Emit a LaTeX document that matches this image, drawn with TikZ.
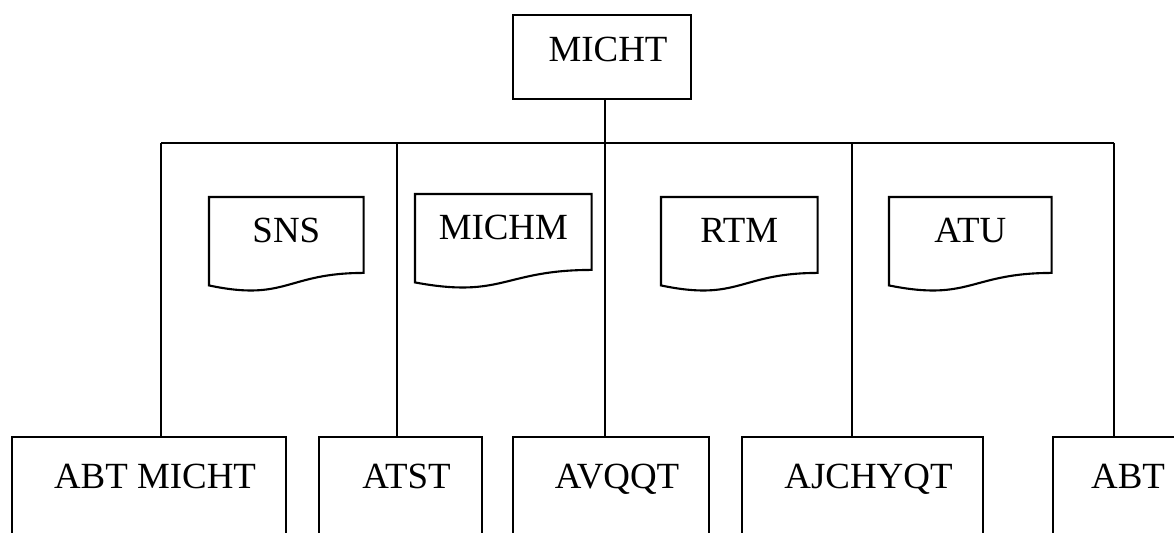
\documentclass[tikz,border=0pt]{standalone}
\usepackage{fontspec}
\setmainfont{Liberation Serif}
\usetikzlibrary{calc}
\begin{document}
\begin{tikzpicture}[x=0.02cm,y=-0.02cm,
	box/.style={draw,line width=1.2pt,inner sep=0pt,anchor=north west,font=\fontsize{21}{25}\selectfont,execute at begin node={\hspace*{0.24cm}}},
	topbox/.style={box,text height=0.92cm,text depth=0.76cm},
	lowbox/.style={box,text height=1.02cm,text depth=1.8cm},
	docbox/.style={inner sep=0pt,anchor=north west,font=\fontsize{21}{25}\selectfont,text height=0.9cm,text depth=0.98cm},
	docline/.style={line width=1.2pt},
	link/.style={line width=0.6pt}]
				\useasboundingbox (0,0) rectangle (1174,533);
				\clip (0,0) rectangle (1174,533);
				% head
				\node[topbox,minimum width=3.56cm] (micht) at (512,14) {MICHT};
				% bus and drop points
				\coordinate (b1) at (161,143);
				\coordinate (b2) at (397,143);
				\coordinate (b3) at (605,143);
				\coordinate (b4) at (852,143);
				\coordinate (b5) at (1114,143);
				% lower row, cut off at the bottom edge
				\node[lowbox,minimum width=5.48cm] (abtmicht) at (11,436) {ABT MICHT};
				\node[lowbox,minimum width=3.26cm] (atst) at (318,436) {ATST};
				\node[lowbox,minimum width=3.92cm] (avqqt) at (512,436) {AVQQT};
				\node[lowbox,minimum width=4.82cm] (ajchyqt) at (741,436) {AJCHYQT};
				\node[lowbox,minimum width=2.76cm] (abt) at (1052,436) {ABT};
				% documents
				\node[docbox,minimum width=3.08cm] (sns) at (209,197) {SNS};
				\node[docbox,minimum width=3.52cm] (michm) at (415,194) {MICHM};
				\node[docbox,minimum width=3.12cm] (rtm) at (661,197) {RTM};
				\node[docbox,minimum width=3.24cm] (atu) at (889,197) {ATU};
				\foreach \d in {sns,michm,rtm,atu}
					\draw[docline] (\d.north west)--(\d.north east)--($(\d.north east)!0.802!(\d.south east)$)
						.. controls ($(\d.north)!0.802!(\d.south)$) and ($(\d.north)!1.108!(\d.south)$) .. ($(\d.north west)!0.934!(\d.south west)$)--cycle;
				% connectors
				\draw[link] (b3 |- micht.south)--(b3);
				\draw[link] (b1)--(b5);
				\draw[link] (b1)--(b1 |- abtmicht.north);
				\draw[link] (b2)--(b2 |- atst.north);
				\draw[link] (b3)--(b3 |- avqqt.north);
				\draw[link] (b4)--(b4 |- ajchyqt.north);
				\draw[link] (b5)--(b5 |- abt.north);
			\end{tikzpicture}
\end{document}
